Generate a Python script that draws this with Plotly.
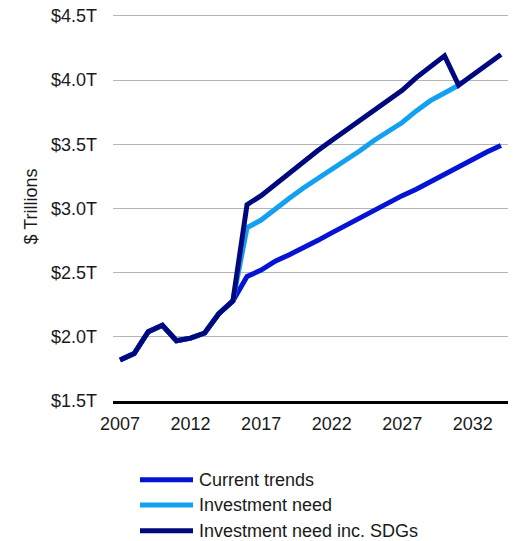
import plotly.graph_objects as go

# Annual totals, trillions of USD
years = list(range(2007, 2035))

current_trends = [1.82, 1.87, 2.04, 2.09, 1.97, 1.99, 2.03, 2.18, 2.28,
                  2.47, 2.52, 2.59, 2.64, 2.69, 2.75, 2.81, 2.87, 2.93,
                  2.98, 3.04, 3.10, 3.15, 3.21, 3.27, 3.33, 3.38, 3.44, 3.49]

investment_need = [1.82, 1.87, 2.04, 2.09, 1.97, 1.99, 2.03, 2.18, 2.28,
                   2.85, 2.91, 3.00, 3.08, 3.16, 3.23, 3.30, 3.38, 3.45,
                   3.53, 3.60, 3.67, 3.76, 3.84, 3.90, 3.96, None, None, None]

investment_need_sdgs = [1.82, 1.87, 2.04, 2.09, 1.97, 1.99, 2.03, 2.18, 2.28,
                        3.03, 3.10, 3.19, 3.28, 3.37, 3.45, 3.53, 3.61, 3.69,
                        3.77, 3.84, 3.92, 4.02, 4.11, 4.19, 3.96, 4.04, 4.12, 4.20]

series_names = ["Current trends", "Investment need", "Investment need inc. SDGs"]
series_colors = ["#0514D4", "#14A0F0", "#00087E"]

x_ticks = [2007, 2012, 2017, 2022, 2027, 2032]
y_ticks = [1.5, 2.0, 2.5, 3.0, 3.5, 4.0, 4.5]
y_tick_labels = ["$1.5T", "$2.0T", "$2.5T", "$3.0T", "$3.5T", "$4.0T", "$4.5T"]

FONT = "Liberation Sans, Arial, sans-serif"
W, H = 514, 541
M_L, M_R, M_T, M_B = 113, 6, 8, 140
PW, PH = W - M_L - M_R, H - M_T - M_B

# vertical scale: 1.5 sits on the x-axis line, 4.5 four pixels below the plot top
px_per_unit = (PH - 4) / 3.0
y_top = 1.5 + PH / px_per_unit

fig = go.Figure()
for name, vals, col in zip(series_names,
                           [current_trends, investment_need, investment_need_sdgs],
                           series_colors):
    fig.add_trace(go.Scatter(
        x=years, y=vals, name=name, mode="lines",
        line=dict(color=col, width=5),
        connectgaps=False, showlegend=False,
    ))

# Legend drawn underneath the plot: line swatch + label per series
def px_x(p):
    return (p - M_L) / PW

def px_y(p):
    return (H - M_B - p) / PH

legend_rows = [480.5, 506, 532]
for name, col, yc in zip(series_names, series_colors, legend_rows):
    fig.add_shape(type="line", xref="paper", yref="paper",
                  x0=px_x(140), x1=px_x(193), y0=px_y(yc), y1=px_y(yc),
                  line=dict(color=col, width=5))
    fig.add_annotation(xref="paper", yref="paper", x=px_x(197), y=px_y(yc),
                       text=name, showarrow=False, xanchor="left", yanchor="middle",
                       font=dict(family=FONT, size=18, color="#1a1a1a"))

fig.update_layout(
    width=W, height=H,
    margin=dict(l=M_L, r=M_R, t=M_T, b=M_B),
    plot_bgcolor="white", paper_bgcolor="white",
    font=dict(family=FONT, size=18, color="#1a1a1a"),
    showlegend=False,
    xaxis=dict(
        range=[2006.5, 2034.5], tickvals=x_ticks,
        showgrid=False, zeroline=False,
        showline=True, linecolor="black", linewidth=3,
        ticks="", ticklabelstandoff=4,
        tickfont=dict(family=FONT, size=18, color="#1a1a1a"),
    ),
    yaxis=dict(
        range=[1.5, y_top], tickvals=y_ticks, ticktext=y_tick_labels,
        showgrid=True, gridcolor="#B4B4B4", gridwidth=1,
        zeroline=False, showline=False, ticks="",
        ticklabelstandoff=15,
        tickfont=dict(family=FONT, size=18, color="#1a1a1a"),
        title=dict(text="$ Trillions", standoff=8,
                   font=dict(family=FONT, size=18, color="#1a1a1a")),
    ),
)

fig.write_html("out.html")
